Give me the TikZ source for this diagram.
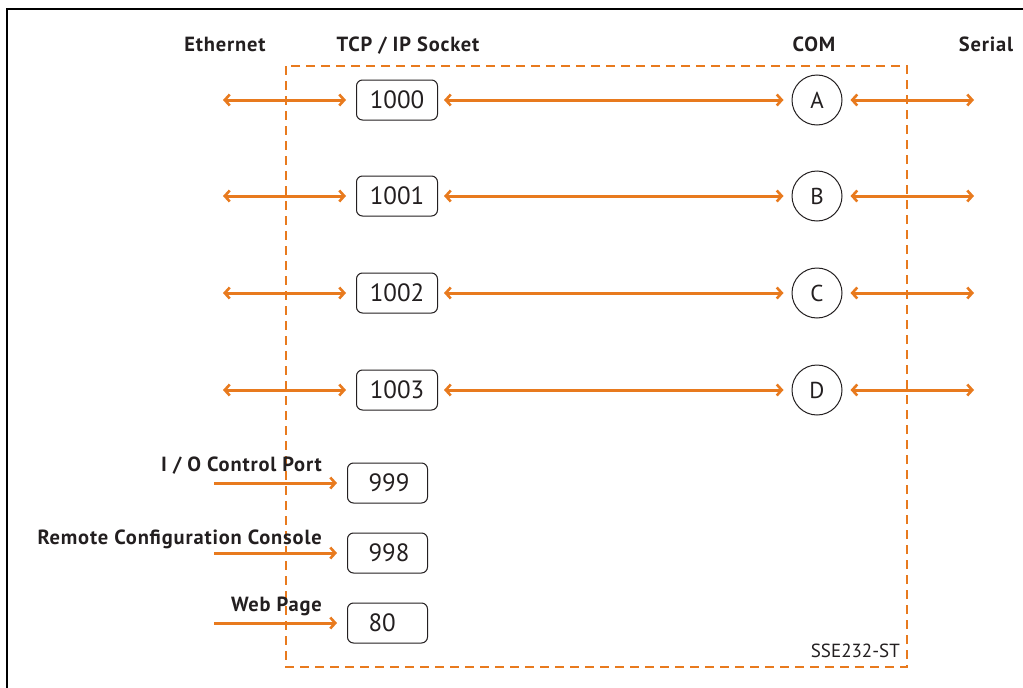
\documentclass[tikz,border=0pt]{standalone}
\usepackage{fontspec}
\setmainfont{PT Sans}
\newfontfamily\labfont{PT Sans}[LetterSpace=4]
\usetikzlibrary{arrows.meta}
\definecolor{orng}{HTML}{E87A1E}
\definecolor{ink}{HTML}{231F20}
\begin{document}
\begin{tikzpicture}[x=1pt,y=-1pt,
  lab/.style={font=\labfont\bfseries\fontsize{20.5}{24}\selectfont, text=ink, inner sep=0pt},
  port/.style={draw=ink, line width=1pt, rounded corners=6pt, minimum width=81pt, minimum height=40pt, inner sep=0pt, text=ink, font=\fontsize{25}{28}\selectfont},
  lport/.style={draw=ink, line width=1pt, rounded corners=6pt, text width=38pt, align=left, inner xsep=21pt, minimum height=40pt, inner ysep=0pt, text=ink, font=\fontsize{25}{28}\selectfont},
  com/.style={draw=ink, line width=1pt, circle, minimum size=50pt, inner sep=0pt, text=ink, font=\fontsize{23}{26}\selectfont},
  link/.style={draw=orng, line width=3pt, {Straight Barb[length=5pt,width=11pt,line width=2.6pt]}-{Straight Barb[length=5pt,width=11pt,line width=2.6pt]}},
  inlink/.style={draw=orng, line width=3pt, -{Straight Barb[length=5pt,width=11pt,line width=2.6pt]}},
  boundary/.style={draw=orng, line width=2.6pt, dash pattern=on 9pt off 6pt}
]
\useasboundingbox (0,0) rectangle (1023,688);
% frame
\draw[line width=2.5pt, black] (7,688) -- (7,9) -- (1023,9);
% dashed boundary
\draw[boundary] (286,66) rectangle (907,667);
\node[anchor=base east, inner sep=0pt, text=ink, font=\fontsize{19}{22}\selectfont] (model) at (900,657) {SSE232-ST};
% headings
\node[lab, anchor=base] (heth) at (225,51) {Ethernet};
\node[lab, anchor=base] (htcp) at (408,51) {TCP / IP Socket};
\node[lab, anchor=base] (hcom) at (814,51) {COM};
\node[lab, anchor=base] (hser) at (986,51) {Serial};
% rows
\foreach \n/\c/\y in {1000/A/100, 1001/B/196, 1002/C/293, 1003/D/390}{
  \node[port] (p\n) at (397,\y) {\n};
  \node[com] (c\c) at (817,\y) {\c};
  \coordinate (e\n) at (223,\y);
  \coordinate (s\n) at (974,\y);
  \draw[link, shorten >=10pt] (e\n) -- (p\n.west);
  \draw[link, shorten <=6pt, shorten >=8pt] (p\n.east) -- (c\c.west);
  \draw[link, shorten <=8pt] (c\c.east) -- (s\n);
}
% lower ports
\node[lport] (p999) at (387.5,483) {999};
\node[lport] (p998) at (387.5,553) {998};
\node[lport] (p80) at (387.5,623) {80};
\coordinate (i999) at (214,483);
\coordinate (i998) at (214,553);
\coordinate (i80) at (214,623);
\draw[inlink, shorten >=10pt] (i999) -- (p999.west);
\draw[inlink, shorten >=10pt] (i998) -- (p998.west);
\draw[inlink, shorten >=10pt] (i80) -- (p80.west);
\node[lab, anchor=base east] (l999) at (322,471.5) {I / O Control Port};
\node[lab, anchor=base east] (l998) at (322,544) {Remote Configuration Console};
\node[lab, anchor=base east] (l80) at (322,611) {Web Page};
\end{tikzpicture}
\end{document}
